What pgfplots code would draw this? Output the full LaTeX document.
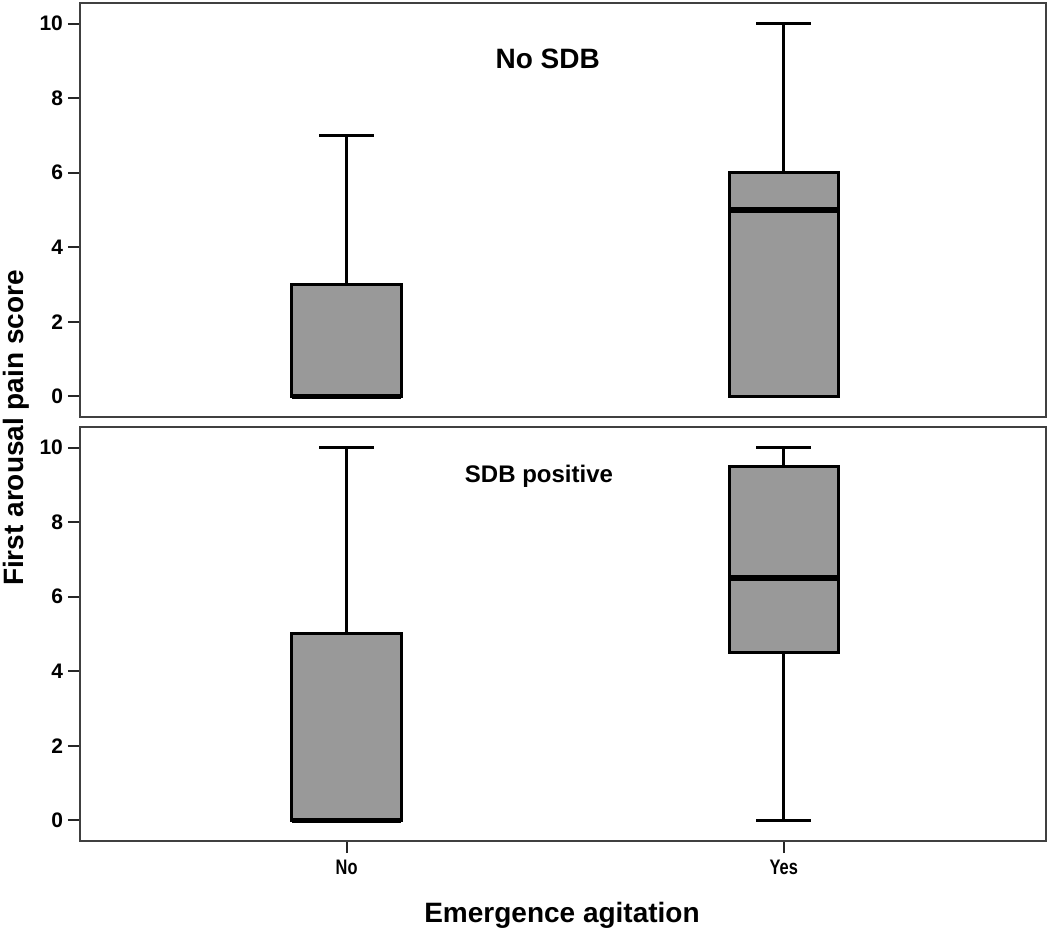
\documentclass[border=0pt]{standalone}
\usepackage{pgfplots}
\pgfplotsset{compat=1.18}
\usepgfplotslibrary{statistics}
\usepackage{graphicx}
\usepackage{fontspec}
\setmainfont{Liberation Sans}
\begin{document}
\begin{tikzpicture}
\pgfplotsset{
  panel/.style={
    scale only axis, width=483pt, height=207pt,
    anchor=north west,
    xmin=-0.61, xmax=1.60, ymin=-0.55, ymax=10.55,
    ytick={0,2,...,10},
    tick align=outside, major tick length=6pt,
    tick style={line width=1pt, black!85},
    axis line style={line width=1pt, black!75},
    yticklabel style={font=\fontsize{10.5}{12}\selectfont\bfseries, xshift=1pt},
    xticklabel style={font=\fontsize{10.5}{12}\selectfont\bfseries},
    ytick pos=left, xtick pos=bottom,
    /pgf/number format/assume math mode=true,
    boxplot/draw direction=y,
    boxplot/box extend=0.25,
    boxplot/whisker extend=0.126,
    boxplot/every box/.style={draw=black, line width=1.5pt, fill=black!40},
    boxplot/every median/.style={draw=black, line width=2.8pt},
    boxplot/every whisker/.style={draw=black, line width=1.5pt},
    clip=false,
  },
}
% top panel
\begin{axis}[panel, name=top, at={(40pt,-1.5pt)}, xtick=\empty]
\addplot+[mark=none, boxplot prepared={draw position=0, lower whisker=0, lower quartile=0, median=0, upper quartile=3, upper whisker=7}] coordinates {};
\addplot+[mark=none, boxplot prepared={draw position=1, lower whisker=0, lower quartile=0, median=5, upper quartile=6, upper whisker=10}] coordinates {};
\node[font=\fontsize{14}{16}\selectfont\bfseries] at (axis cs:0.46,9.05) {No SDB};
\end{axis}
% bottom panel
\begin{axis}[panel, name=bot, at={(40pt,-213.5pt)}, xtick={0,1}, xticklabels={\scalebox{0.78}[1]{No},\scalebox{0.78}[1]{Yes}}]
\addplot+[mark=none, boxplot prepared={draw position=0, lower whisker=0, lower quartile=0, median=0, upper quartile=5, upper whisker=10}] coordinates {};
\addplot+[mark=none, boxplot prepared={draw position=1, lower whisker=0, lower quartile=4.5, median=6.5, upper quartile=9.5, upper whisker=10}] coordinates {};
\node[font=\fontsize{12}{14}\selectfont\bfseries] at (axis cs:0.44,9.22) {SDB positive};
\end{axis}
\node[rotate=90, font=\fontsize{14}{16}\selectfont\bfseries] at (8pt,-214pt) {First arousal pain score};
\node[anchor=base, font=\fontsize{14}{16}\selectfont\bfseries] at (281pt,-461.5pt) {Emergence agitation};
\pgfresetboundingbox
\path[use as bounding box] (0,0) rectangle (525pt,-464.5pt);
\end{tikzpicture}
\end{document}
